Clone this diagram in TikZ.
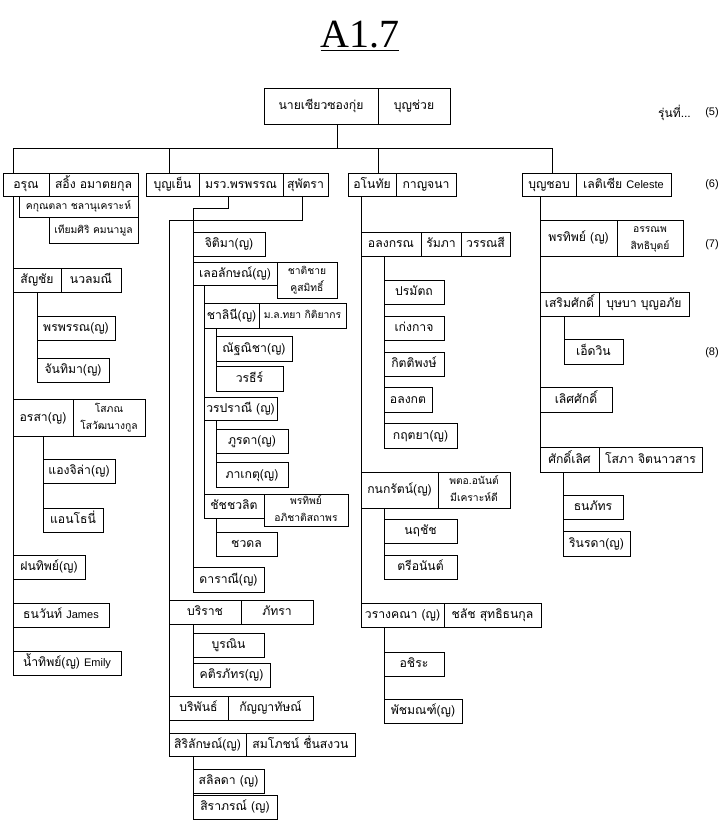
\documentclass[tikz,border=0pt]{standalone}
\usepackage{fontspec}
\setmainfont{Liberation Sans}
\newfontfamily\thai[Script=Thai]{Loma}
\newfontfamily\latin{Liberation Sans}
\newfontfamily\titlefont{Liberation Serif}
\tikzset{
  box/.style={draw, line width=0.9pt, rectangle, inner sep=0pt, outer sep=0pt, align=center,
    text height=7.5pt, text depth=0pt,
    font=\thai\fontsize{12.2}{13}\selectfont},
  sm/.style={font=\thai\fontsize{10.3}{16}\selectfont, text height=6.5pt, text depth=0pt},
  two/.style={font=\thai\fontsize{10.3}{17}\selectfont, text height=23pt, text depth=0pt},
  ln/.style={line width=0.9pt},
  gen/.style={font=\latin\fontsize{11}{12}\selectfont, inner sep=0pt}
}
\newcommand{\bx}[7][]{\node[box,#1,anchor=north west,minimum width={#5pt-#3pt},minimum height={#6pt-#4pt}] (#2) at (#3,#4) {#7};}
\begin{document}
\begin{tikzpicture}[x=1pt,y=-1pt]
\useasboundingbox (0,0) rectangle (728,830);
\fill[white] (0,0) rectangle (728,830);
\node[font=\titlefont\fontsize{40}{40}\selectfont, inner sep=0pt] (title) at (360,36) {\underline{A1.7}};
% generation labels
\node[gen, anchor=east] (g5t) at (691,113) {\thai\fontsize{12}{13}\selectfont รุ่นที่...};
\node[gen] (g5) at (712,113) {(5)};
\node[gen] (g6) at (712,185) {(6)};
\node[gen] (g7) at (712,245) {(7)};
\node[gen] (g8) at (712,353) {(8)};
% top
\bx{nai}{264}{88}{378}{124}{นายเซียวซองกุ่ย}
\bx{naiS}{378}{88}{450}{124}{บุญช่วย}
% Arun
\bx{arun}{3}{173}{49}{196}{อรุณ}
\bx{arunS}{49}{173}{138}{196}{สอิ้ง อมาตยกุล}
\bx[sm]{kakun}{19}{196}{138}{217}{คกุณตลา ชลานุเคราะห์}
\bx[sm]{thiam}{49}{217}{138}{243}{เทียมศิริ คมนามูล}
\bx{sanchai}{13}{268}{61}{292}{สัญชัย}
\bx{sanchaiS}{61}{268}{121}{292}{นวลมณี}
\bx{pornpan}{37}{316}{115}{340}{พรพรรณ(ญ)}
\bx{chanthima}{37}{358}{109}{382}{จันทิมา(ญ)}
\bx{orasa}{13}{399}{73}{436}{อรสา(ญ)}
\bx[two]{orasaS}{73}{399}{145}{436}{โสภณ\\โสวัฒนางกูล}
\bx{angela}{43}{459}{115}{483}{แองจิล่า(ญ)}
\bx{anthony}{43}{508}{103}{532}{แอนโธนี่}
\bx{fonthip}{13}{555}{85}{579}{ฝนทิพย์(ญ)}
\bx{thanawan}{13}{603}{109}{627}{ธนวันท์ {\latin\fontsize{11}{12}\selectfont James}}
\bx{namthip}{13}{651}{121}{675}{น้ำทิพย์(ญ) {\latin\fontsize{11}{12}\selectfont Emily}}
% Boonyen
\bx{boonyen}{146}{173}{199}{196}{บุญเย็น}
\bx{mrw}{199}{173}{283}{196}{มรว.พรพรรณ}
\bx{supattra}{283}{173}{328}{196}{สุพัตรา}
\bx{jitima}{193}{232}{265}{256}{จิติมา(ญ)}
\bx{lerlak}{193}{262}{277}{285}{เลอลักษณ์(ญ)}
\bx[two]{lerlakS}{277}{262}{337}{298}{ชาติชาย\\คูสมิทธิ์}
\bx{chalinee}{204}{303}{259}{328}{ชาลินี(ญ)}
\bx[sm]{chalineeS}{259}{303}{346}{328}{ม.ล.ทยา กิติยากร}
\bx{natnicha}{216}{336}{292}{361}{ณัฐณิชา(ญ)}
\bx{worathee}{216}{366}{283}{391}{วรธีร์}
\bx{worapranee}{204}{397}{277}{420}{วรปราณี (ญ)}
\bx{phurada}{216}{429}{288}{453}{ภูรดา(ญ)}
\bx{phakate}{216}{462}{288}{487}{ภาเกตุ(ญ)}
\bx{chat}{204}{494}{264}{518}{ชัชชวลิต}
\bx[two]{chatS}{264}{494}{348}{526}{พรทิพย์\\อภิชาติสถาพร}
\bx{chawadol}{216}{532}{277}{556}{ชวดล}
\bx{darani}{193}{567}{264}{592}{ดาราณี(ญ)}
\bx{borirat}{169}{600}{241}{624}{บริราช}
\bx{boriratS}{241}{600}{313}{624}{ภัทรา}
\bx{burinin}{193}{633}{264}{657}{บูรณิน}
\bx{khati}{193}{663}{270}{687}{คติรภัทร(ญ)}
\bx{boriphan}{169}{696}{228}{720}{บริพันธ์}
\bx{boriphanS}{228}{696}{313}{720}{กัญญาทัษณ์}
\bx{sirilak}{169}{733}{246}{756}{สิริลักษณ์(ญ)}
\bx{sirilakS}{246}{733}{355}{756}{สมโภชน์ ชื่นสงวน}
\bx{salinda}{193}{769}{264}{793}{สลิลดา (ญ)}
\bx{siraporn}{193}{795}{277}{819}{สิราภรณ์ (ญ)}
% Anothai
\bx{anothai}{348}{173}{396}{196}{อโนทัย}
\bx{anothaiS}{396}{173}{456}{196}{กาญจนา}
\bx{alongkorn}{361}{232}{421}{256}{อลงกรณ}
\bx{ramphaa}{421}{232}{461}{256}{รัมภา}
\bx{wannasi}{461}{232}{510}{256}{วรรณสี}
\bx{poramat}{384}{280}{444}{304}{ปรมัตถ}
\bx{kengkat}{384}{316}{444}{340}{เก่งกาจ}
\bx{kittipong}{384}{352}{444}{376}{กิตติพงษ์}
\bx{alongkot}{384}{387}{432}{412}{อลงกต}
\bx{kritaya}{384}{423}{457}{448}{กฤตยา(ญ)}
\bx{kanok}{361}{472}{438}{508}{กนกรัตน์(ญ)}
\bx[two]{kanokS}{438}{472}{510}{508}{พตอ.อนันต์\\มีเคราะห์ดี}
\bx{naruchat}{384}{519}{457}{543}{นฤชัช}
\bx{treeanan}{384}{555}{457}{579}{ตรีอนันต์}
\bx{warang}{361}{603}{444}{627}{วรางคณา (ญ)}
\bx{warangS}{444}{603}{541}{627}{ชลัช สุทธิธนกุล}
\bx{achira}{384}{652}{444}{676}{อชิระ}
\bx{patcha}{384}{699}{462}{723}{พัชมณฑ์(ญ)}
% Boonchob
\bx{boonchob}{522}{173}{576}{196}{บุญชอบ}
\bx{boonchobS}{576}{173}{671}{196}{เลติเซีย {\latin\fontsize{11}{12}\selectfont Celeste}}
\bx{pornthip}{540}{220}{617}{256}{พรทิพย์ (ญ)}
\bx[two]{pornthipS}{617}{220}{683}{256}{อรรณพ\\สิทธิบุตย์}
\bx{sermsak}{540}{292}{599}{316}{เสริมศักดิ์}
\bx{sermsakS}{599}{292}{689}{316}{บุษบา บุญอภัย}
\bx{edwin}{564}{339}{623}{364}{เอ็ดวิน}
\bx{lertsak}{540}{387}{612}{412}{เลิศศักดิ์}
\bx{sakdilert}{540}{447}{599}{472}{ศักดิ์เลิศ}
\bx{sakdilertS}{599}{447}{702}{472}{โสภา จิตนาวสาร}
\bx{thanaphat}{563}{495}{623}{519}{ธนภัทร}
\bx{rinrada}{563}{531}{630}{556}{รินรดา(ญ)}
% connectors
\coordinate (bus) at (13,148);
\coordinate (busR) at (552,148);
\coordinate (dB) at (169,148);
\coordinate (dA) at (378,148);
\coordinate (jB1) at (193,208);
\coordinate (jB2) at (169,220);
\draw[ln] ([xshift=73pt]nai.south west) |- (bus);
\draw[ln] ([xshift=73pt]nai.south west) |- (busR);
\draw[ln] (bus) -- (bus |- arun.north);
\draw[ln] (dB) -- (dB |- boonyen.north);
\draw[ln] (dA) -- (dA |- anothai.north);
\draw[ln] (busR) -- (busR |- boonchob.north);
\draw[ln] (bus |- arun.south) -- (namthip.south west);
\draw[ln] ([xshift=24pt]sanchai.south west) -- (chanthima.south west);
\draw[ln] ([xshift=30pt]orasa.south west) -- (anthony.south west);
\draw[ln] ([xshift=29pt]mrw.south west) |- (jB1) -- (darani.south west);
\draw[ln] ([xshift=19pt]supattra.south west) |- (jB2) -- (sirilak.south west);
\draw[ln] ([xshift=11pt]lerlak.south west) -- (chat.south west);
\draw[ln] ([xshift=12pt]chalinee.south west) -- (worathee.south west);
\draw[ln] ([xshift=12pt]worapranee.south west) -- (phakate.south west);
\draw[ln] ([xshift=12pt]chat.south west) -- (chawadol.south west);
\draw[ln] ([xshift=24pt]borirat.south west) -- (khati.south west);
\draw[ln] ([xshift=24pt]sirilak.south west) -- (siraporn.south west);
\draw[ln] ([xshift=13pt]anothai.south west) -- (warang.south west);
\draw[ln] ([xshift=23pt]alongkorn.south west) -- (kritaya.south west);
\draw[ln] ([xshift=23pt]kanok.south west) -- (treeanan.south west);
\draw[ln] ([xshift=23pt]warang.south west) -- (patcha.south west);
\draw[ln] ([xshift=18pt]boonchob.south west) -- (sakdilert.south west);
\draw[ln] ([xshift=24pt]sermsak.south west) -- (edwin.south west);
\draw[ln] ([xshift=23pt]sakdilert.south west) -- (rinrada.south west);
\end{tikzpicture}
\end{document}
